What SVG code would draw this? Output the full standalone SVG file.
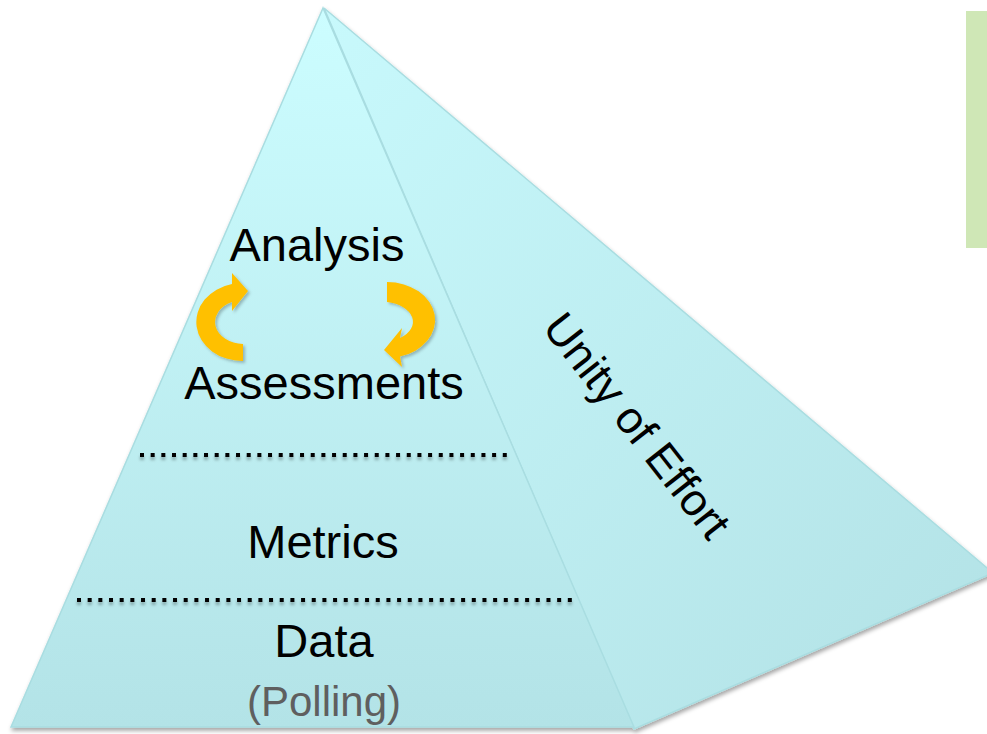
<svg xmlns="http://www.w3.org/2000/svg" width="987" height="734" viewBox="0 0 987 734">
<defs>
<linearGradient id="gFront" x1="0" y1="0" x2="0" y2="1">
<stop offset="0" stop-color="#ccfdff"/>
<stop offset="1" stop-color="#b3e3e7"/>
</linearGradient>
<linearGradient id="gSide" x1="0" y1="0" x2="1" y2="1">
<stop offset="0" stop-color="#c8f9fc"/>
<stop offset="1" stop-color="#b2e1e5"/>
</linearGradient>
<filter id="shadow" x="-10%" y="-10%" width="120%" height="120%">
<feDropShadow dx="1" dy="3" stdDeviation="2" flood-color="#000" flood-opacity="0.35"/>
</filter>
<filter id="dshadow" x="-5%" y="-100%" width="110%" height="400%">
<feDropShadow dx="0" dy="3" stdDeviation="1.5" flood-color="#000" flood-opacity="0.3"/>
</filter>
<filter id="ashadow" x="-20%" y="-20%" width="140%" height="140%">
<feDropShadow dx="2" dy="2" stdDeviation="1.5" flood-color="#000" flood-opacity="0.25"/>
</filter>
</defs>
<style>
.lbl{font-family:"Liberation Sans",Arial,sans-serif;font-size:47px;fill:#000;text-anchor:middle}
.sub{font-family:"Liberation Sans",Arial,sans-serif;font-size:42px;fill:#5f5f5f;text-anchor:middle}
.rot{font-family:"Liberation Sans",Arial,sans-serif;font-size:45px;fill:#000;text-anchor:middle}
.dots{stroke:#000;stroke-width:4;stroke-dasharray:4 6.67;fill:none}
.arrow{fill:#ffc000}
</style>
<rect x="966" y="11" width="21" height="237" fill="#cfe7b6"/>
<g id="pyramid" filter="url(#shadow)">
<polygon id="side-face" points="324,8 993,573 634,729" fill="url(#gSide)" stroke="#a9dde1" stroke-width="1.5"/>
<polygon id="front-face" points="323,8 11,727 634,727" fill="url(#gFront)" stroke="#a9dde1" stroke-width="1.5"/>
</g>
<g id="layer-lines" filter="url(#dshadow)">
<line class="dots" x1="140" y1="455" x2="510" y2="455"/>
<line class="dots" x1="77" y1="600" x2="574" y2="600"/>
</g>
<g id="analysis"><text class="lbl" x="317" y="261">Analysis</text></g>
<g id="assessments"><text class="lbl" x="324" y="399">Assessments</text></g>
<g id="metrics"><text class="lbl" x="323" y="558">Metrics</text></g>
<g id="data"><text class="lbl" x="324" y="657">Data</text></g>
<g id="polling"><text class="sub" x="324" y="716">(Polling)</text></g>
<g id="unity"><text class="rot" x="0" y="0" transform="translate(625,435) rotate(52)">Unity of Effort</text></g>
<g id="cycle-arrows" filter="url(#ashadow)">
<path class="arrow" d="M243,361 A46,39 0 0 1 232,284 L232,273 L248,291 L232,311 L232,302 A29,22 0 0 0 243,344 Z"/>
<path class="arrow" d="M387,282 A48,38 0 0 1 400,356.6 L402,367 L384,350 L402,328 L400,338 A31,20 0 0 0 387,302 Z"/>
</g>
</svg>
